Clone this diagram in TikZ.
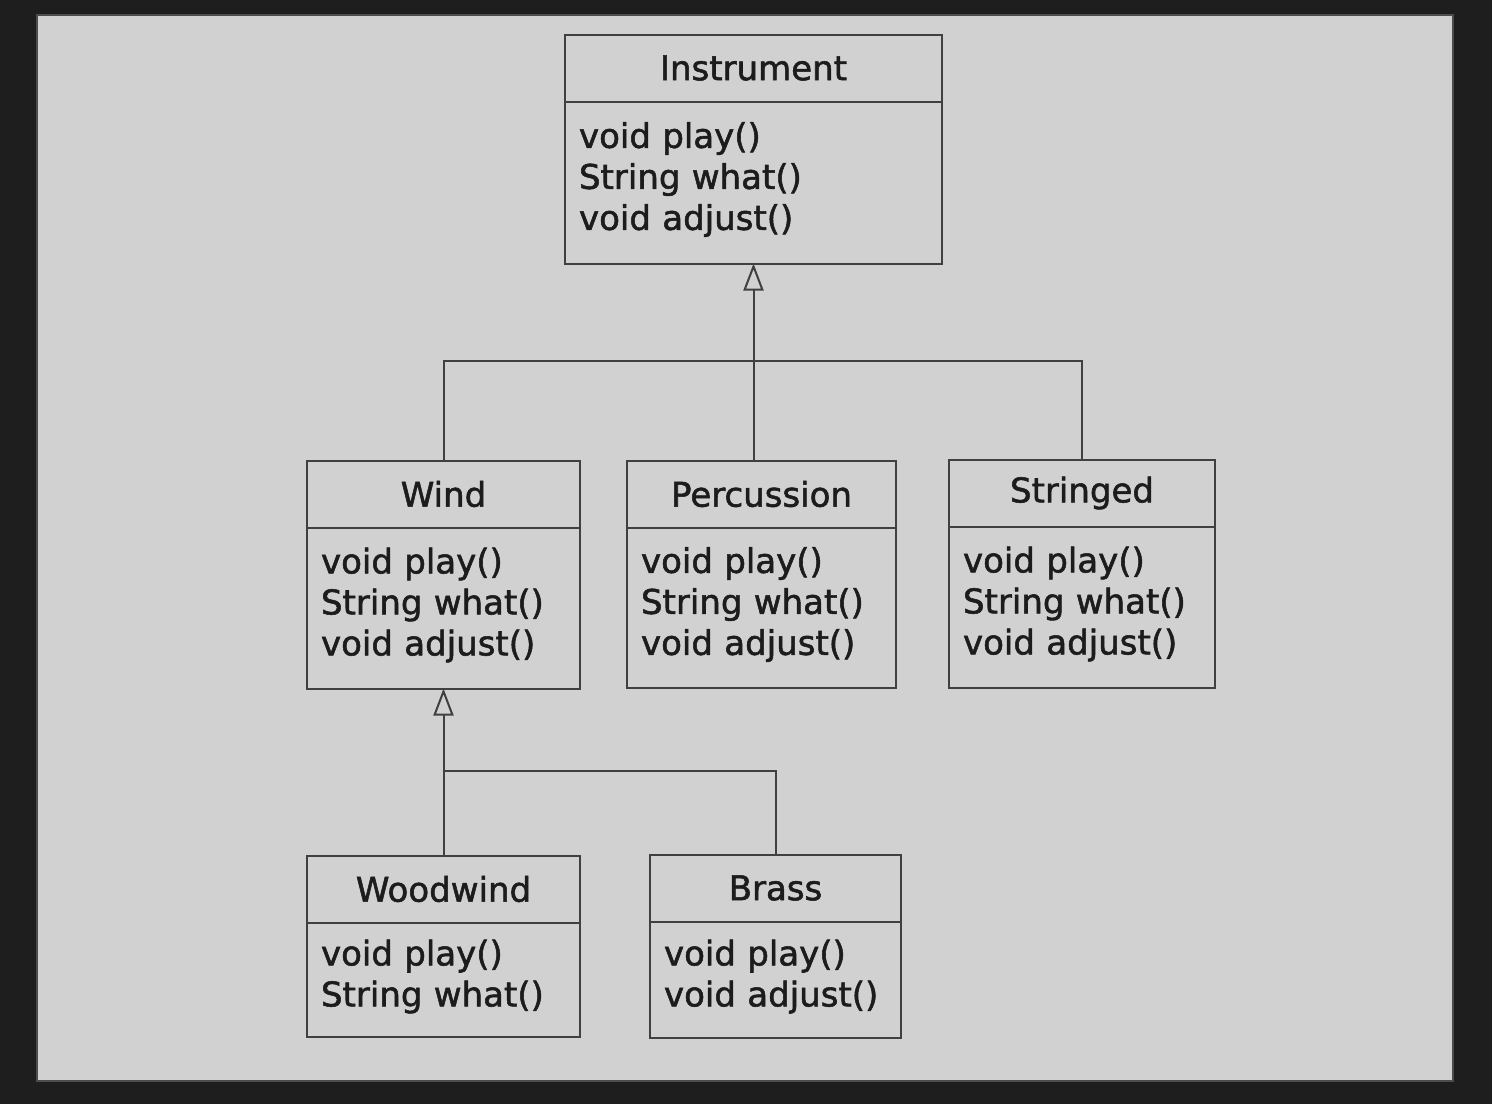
\documentclass[tikz,border=0pt]{standalone}
\usepackage{fontspec}
\setmainfont{DejaVu Sans}[FakeBold=1.6]
\usetikzlibrary{positioning,arrows.meta}
\definecolor{framegray}{HTML}{1E1E1E}
\definecolor{panelgray}{HTML}{D1D1D1}
\definecolor{linegray}{HTML}{404040}
\definecolor{inkgray}{HTML}{1C1C1C}
\tikzset{
  classname/.style={draw=linegray, line width=1pt, minimum width=#1,
    minimum height=33.5pt, inner sep=0pt, outer sep=0pt, text=inkgray},
  classops/.style n args={2}{draw=linegray, line width=1pt, text width=#1,
    minimum height=#2, inner xsep=7pt, inner ysep=0pt, outer sep=0pt,
    align=left, text=inkgray},
  inherit/.style={draw=linegray, line width=1pt,
    -{Triangle[width=10pt,length=13.5pt,fill=panelgray]}},
  link/.style={draw=linegray, line width=1pt}
}
\begin{document}
\begin{tikzpicture}[x=0.5pt,y=-0.5pt,
  font=\fontsize{17pt}{20.5pt}\selectfont]
\fill[framegray] (0,0) rectangle (1492,1104);
\filldraw[fill=panelgray, draw=gray!60!black, line width=0.6pt] (37,15) rectangle (1453,1081);

% base class
\node[classname=188.5pt] (inst) at (753.5,68) {Instrument};
\node[classops={174.5pt}{81pt}, below=0pt of inst] (inst-ops)
  {void play()\\String what()\\void adjust()\vspace{3pt}};

% second level
\node[classname=136.5pt] (wind) at (443.5,494) {Wind};
\node[classops={122.5pt}{80.5pt}, below=0pt of wind] (wind-ops)
  {void play()\\String what()\\void adjust()\vspace{3pt}};

\node[classname=134.5pt] (perc) at (761.5,494) {Percussion};
\node[classops={120.5pt}{80pt}, below=0pt of perc] (perc-ops)
  {void play()\\String what()\\void adjust()\vspace{3pt}};

\node[classname=133pt] (string) at (1082,493) {Stringed};
\node[classops={119pt}{80.5pt}, below=0pt of string] (string-ops)
  {void play()\\String what()\\void adjust()\vspace{3pt}};

% third level
\node[classname=136.5pt] (wood) at (443.5,889) {Woodwind};
\node[classops={122.5pt}{57pt}, below=0pt of wood] (wood-ops)
  {void play()\\String what()\vspace{3pt}};

\node[classname=125.5pt] (brass) at (775.5,888) {Brass};
\node[classops={111.5pt}{58pt}, below=0pt of brass] (brass-ops)
  {void play()\\void adjust()\vspace{3pt}};

% generalisation links
\coordinate (inst-join) at (753.5,361);
\draw[link] (wind.north) |- (inst-join) -| (string.north);
\draw[link] (inst-join) -- (inst-join |- perc.north);
\draw[inherit] (inst-join) -- (inst-ops.south);

\coordinate (wind-join) at (443.5,771);
\draw[link] (wood.north) -- (wind-join) -| (brass.north);
\draw[inherit] (wind-join) -- (wind-ops.south);
\end{tikzpicture}
\end{document}
